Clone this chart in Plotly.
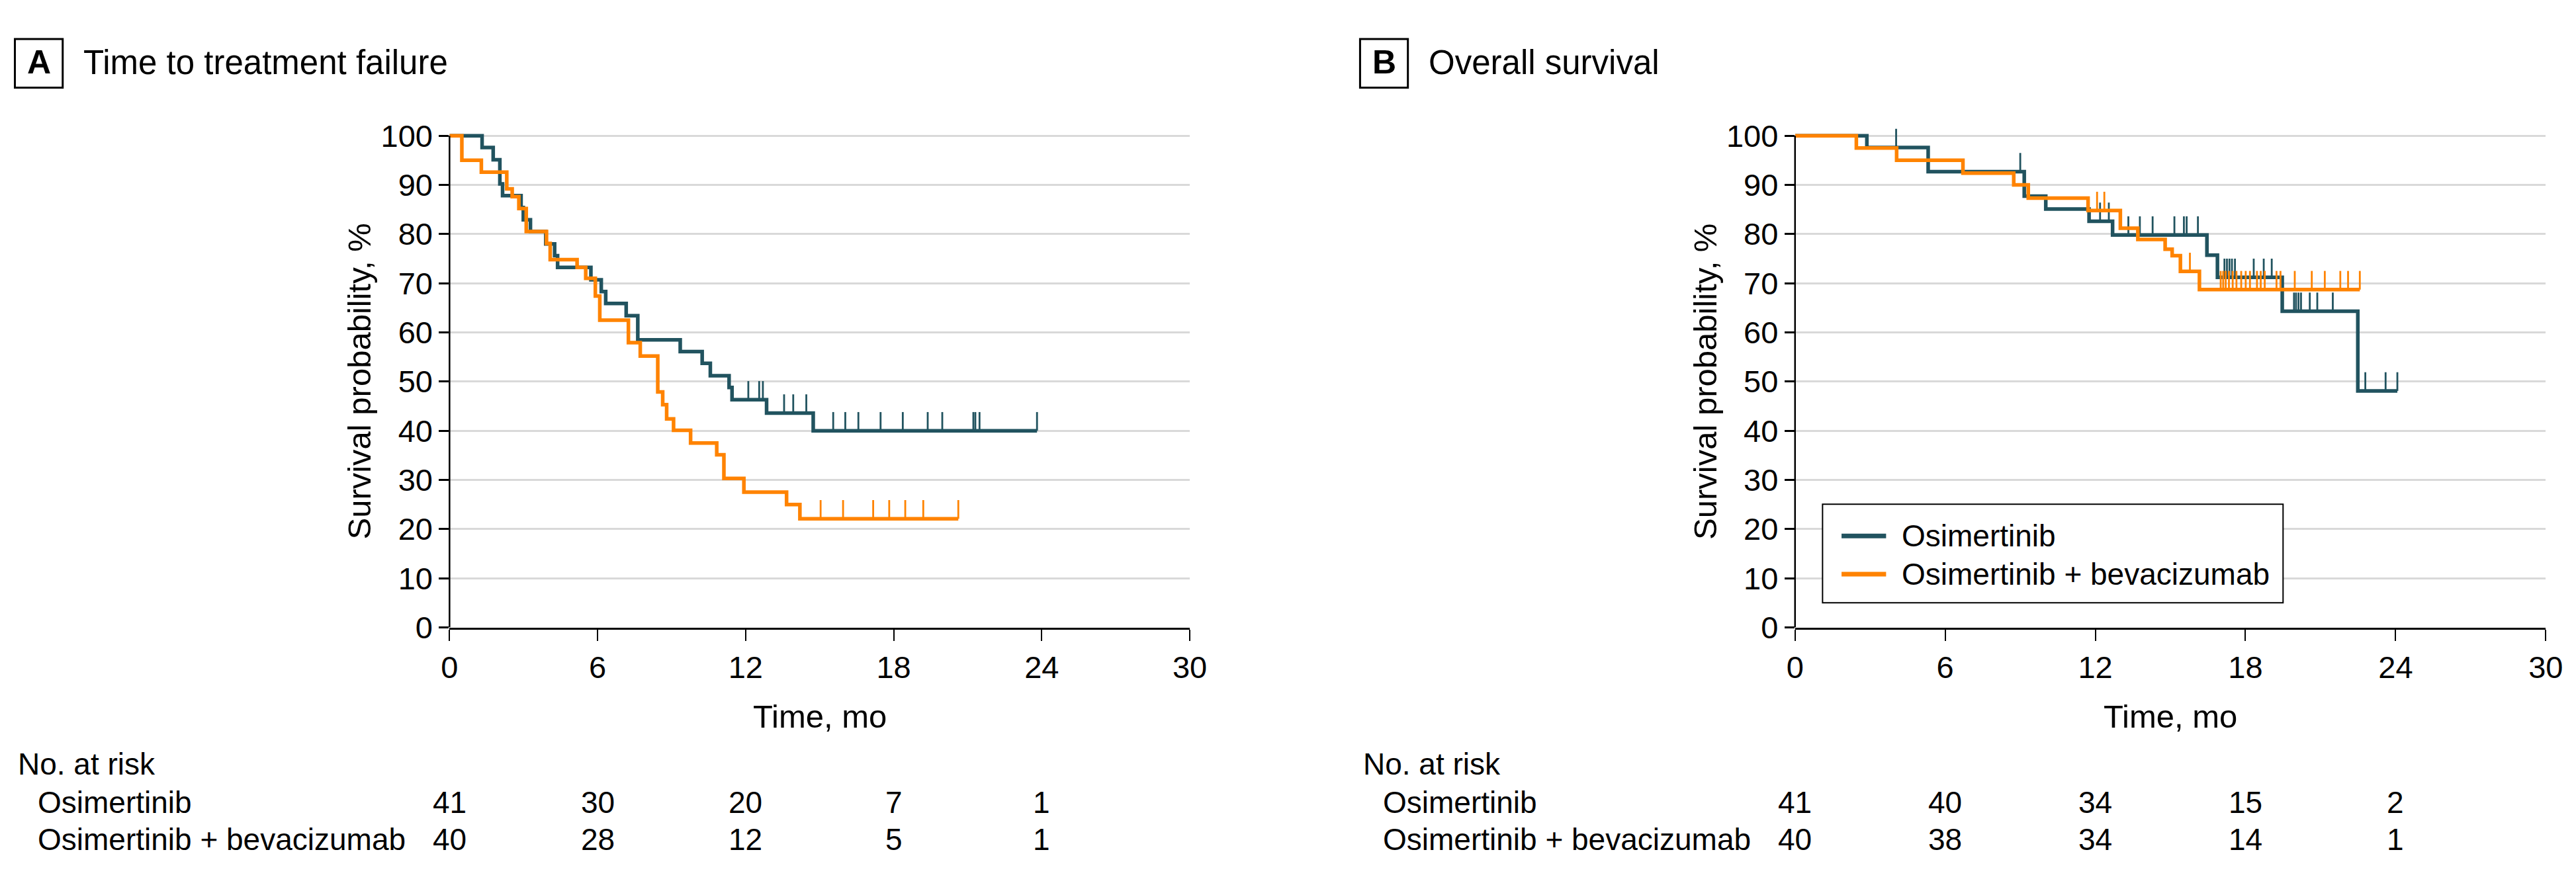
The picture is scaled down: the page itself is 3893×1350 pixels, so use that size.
import plotly.graph_objects as go

W, H = 3893, 1350
FONT = "Liberation Sans, Arial, sans-serif"
TEAL = "#21535f"
ORANGE = "#ff8300"
GRID = "#d9d9d9"

series_names = ["Osimertinib", "Osimertinib + bevacizumab"]
panel_titles = ["Time to treatment failure", "Overall survival"]
panel_letters = ["A", "B"]

# Panel A - time to treatment failure (months, survival %)
ttf_osi_t = [1.32, 1.77, 2.04, 2.15, 2.90, 2.99, 3.28, 3.90, 4.26, 4.38, 5.73, 6.15, 6.33,
             7.16, 7.63, 9.35, 10.24, 10.57, 11.33, 11.45, 12.85, 14.74]
ttf_osi_s = [97.6, 95.1, 90.2, 87.8, 85.4, 82.9, 80.5, 78.0, 75.6, 73.2, 70.7, 68.3, 65.9,
             63.4, 58.5, 56.1, 53.7, 51.2, 48.8, 46.3, 43.6, 40.0]
ttf_osi_end = 23.81
ttf_osi_cens = [12.11, 12.55, 12.70, 13.56, 13.93, 14.46, 15.55, 16.04, 16.57, 17.47, 18.37,
                19.38, 19.97, 21.23, 21.31, 21.48, 23.81]

ttf_bev_t = [0.50, 1.29, 2.32, 2.54, 2.81, 3.11, 3.93, 4.08, 5.17, 5.52, 5.91, 6.09, 7.25,
             7.73, 8.44, 8.64, 8.80, 9.08, 9.77, 10.83, 11.12, 11.93, 13.66, 14.20]
ttf_bev_s = [95.0, 92.6, 89.2, 87.6, 85.2, 80.5, 78.1, 74.8, 73.2, 71.0, 67.4, 62.5, 57.9,
             55.2, 47.9, 45.3, 42.4, 40.1, 37.5, 35.1, 30.3, 27.5, 25.0, 22.1]
ttf_bev_end = 20.62
ttf_bev_cens = [15.04, 15.95, 17.17, 17.82, 18.47, 19.20, 20.62]

# Panel B - overall survival
os_osi_t = [2.87, 5.32, 9.16, 10.02, 11.75, 12.69, 16.46, 16.88, 19.47, 22.49]
os_osi_s = [97.6, 92.7, 87.7, 85.1, 82.6, 79.8, 75.7, 71.2, 64.3, 48.1]
os_osi_end = 24.07
os_osi_cens = [4.04, 9.00, 12.19, 12.54, 13.32, 13.78, 14.29, 15.16, 15.54, 15.65, 16.10,
               17.16, 17.26, 17.36, 17.46, 17.58, 18.33, 18.73, 19.05, 19.94, 20.02, 20.12,
               20.22, 20.57, 20.87, 21.49, 22.79, 23.60, 24.07]

os_bev_t = [2.45, 4.06, 6.71, 8.74, 9.32, 11.71, 13.00, 13.70, 14.79, 15.07, 15.40, 16.16]
os_bev_s = [97.5, 95.0, 92.4, 90.0, 87.3, 84.8, 81.2, 78.9, 76.9, 75.6, 72.4, 68.7]
os_bev_end = 22.57
os_bev_cens = [12.07, 12.36, 15.78, 17.01, 17.11, 17.21, 17.34, 17.49, 17.64, 17.83, 18.01,
               18.18, 18.46, 18.61, 18.77, 19.24, 19.40, 19.97, 20.65, 21.17, 21.79, 22.10,
               22.57]

# number at risk
risk_times = [0, 6, 12, 18, 24]
risk_ttf_osi = [41, 30, 20, 7, 1]
risk_ttf_bev = [40, 28, 12, 5, 1]
risk_os_osi = [41, 40, 34, 15, 2]
risk_os_bev = [40, 38, 34, 14, 1]

x_ticks = [0, 6, 12, 18, 24, 30]
y_ticks = list(range(0, 101, 10))


def px(x):
    return x / W


def py(y):
    return 1 - y / H


def level_at(t, times, levels):
    s = 100
    for ti, si in zip(times, levels):
        if ti <= t:
            s = si
    return s


def km_traces(times, levels, end, cens, color, xa, ya):
    xs = [0] + times + [end]
    ys = [100] + levels + [levels[-1]]
    curve = go.Scatter(x=xs, y=ys, mode="lines", line=dict(color=color, width=5.5, shape="hv"),
                       xaxis=xa, yaxis=ya, showlegend=False, hoverinfo="skip")
    # censor marks: short vertical ticks rising from the curve
    cx, cy = [], []
    for c in cens:
        s = level_at(c, times, levels)
        cx += [c, c, None]
        cy += [s, s + 3.8, None]
    ticks = go.Scatter(x=cx, y=cy, mode="lines", line=dict(color=color, width=2.8),
                       xaxis=xa, yaxis=ya, showlegend=False, hoverinfo="skip")
    return [curve, ticks]


fig = go.Figure()
for tr in (km_traces(ttf_osi_t, ttf_osi_s, ttf_osi_end, ttf_osi_cens, TEAL, "x", "y")
           + km_traces(ttf_bev_t, ttf_bev_s, ttf_bev_end, ttf_bev_cens, ORANGE, "x", "y")
           + km_traces(os_osi_t, os_osi_s, os_osi_end, os_osi_cens, TEAL, "x2", "y2")
           + km_traces(os_bev_t, os_bev_s, os_bev_end, os_bev_cens, ORANGE, "x2", "y2")):
    fig.add_trace(tr)

y_dom = [py(959), py(170.7)]
xa_common = dict(range=[0, 30], tickvals=x_ticks, showgrid=False, zeroline=False,
                 showline=True, linecolor="black", linewidth=3, ticks="outside",
                 ticklen=17, tickwidth=2, tickcolor="black",
                 tickfont=dict(family=FONT, size=47, color="black"), fixedrange=True)
ya_common = dict(range=[0, 104], tickvals=y_ticks, showgrid=True, gridcolor=GRID, gridwidth=3,
                 zeroline=False, showline=False, ticks="outside", ticklen=15, tickwidth=3,
                 tickcolor="black", tickfont=dict(family=FONT, size=47, color="black"),
                 domain=y_dom, fixedrange=True)

fig.update_layout(
    width=W, height=H,
    margin=dict(l=0, r=0, t=0, b=0),
    paper_bgcolor="white", plot_bgcolor="white",
    showlegend=False,
    xaxis=dict(domain=[px(665), px(1795)], anchor="y", **xa_common),
    yaxis=dict(anchor="x", **ya_common),
    xaxis2=dict(domain=[px(2719), px(3865)], anchor="y2", **xa_common),
    yaxis2=dict(anchor="x2", **ya_common),
)

shapes = []
ann = []

panels = [
    dict(xref="x", yref="y", box_x=1.5, title_x=104, risk_x=4,
         risk=[risk_ttf_osi, risk_ttf_bev], ytitle_x=527, center=1230),
    dict(xref="x2", yref="y2", box_x=2055, title_x=2158, risk_x=2058,
         risk=[risk_os_osi, risk_os_bev], ytitle_x=2582, center=3292),
]

for i, p in enumerate(panels):
    # y axis line from 0 to 100
    shapes.append(dict(type="line", xref=p["xref"] + " domain", yref=p["yref"],
                       x0=0, x1=0, y0=0, y1=100, line=dict(color="black", width=2.5)))
    # panel letter box
    shapes.append(dict(type="rect", xref="paper", yref="paper",
                       x0=px(p["box_x"]), x1=px(p["box_x"] + 73), y0=py(127), y1=py(52),
                       line=dict(color="black", width=3)))
    ann.append(dict(text="<b>%s</b>" % panel_letters[i], x=px(p["box_x"] + 37), y=py(88),
                    xref="paper", yref="paper", xanchor="center", yanchor="middle",
                    showarrow=False, font=dict(family=FONT, size=50, color="black")))
    ann.append(dict(text=panel_titles[i], x=px(p["title_x"]), y=py(88), xref="paper",
                    yref="paper", xanchor="left", yanchor="middle", showarrow=False,
                    font=dict(family=FONT, size=51, color="black")))
    ann.append(dict(text="Survival probability, %", x=px(p["ytitle_x"]), y=py(580),
                    xref="paper", yref="paper", xanchor="center", yanchor="middle",
                    textangle=-90, showarrow=False,
                    font=dict(family=FONT, size=49, color="black")))
    ann.append(dict(text="Time, mo", x=px(p["center"]), y=py(1096), xref="paper",
                    yref="paper", xanchor="center", yanchor="middle", showarrow=False,
                    font=dict(family=FONT, size=49, color="black")))
    ann.append(dict(text="No. at risk", x=px(p["risk_x"]), y=py(1170), xref="paper",
                    yref="paper", xanchor="left", yanchor="middle", showarrow=False,
                    font=dict(family=FONT, size=46, color="black")))
    for j, row_y in enumerate([1229, 1286]):
        ann.append(dict(text=series_names[j], x=px(p["risk_x"] + 30), y=py(row_y),
                        xref="paper", yref="paper", xanchor="left", yanchor="middle",
                        showarrow=False, font=dict(family=FONT, size=46, color="black")))
        for t, n in zip(risk_times, p["risk"][j]):
            ann.append(dict(text=str(n), x=t, y=py(row_y), xref=p["xref"], yref="paper",
                            xanchor="center", yanchor="middle", showarrow=False,
                            font=dict(family=FONT, size=46, color="black")))

# legend of panel B
shapes.append(dict(type="rect", xref="paper", yref="paper", x0=px(2761), x1=px(3464),
                   y0=py(921), y1=py(769), line=dict(color="black", width=2),
                   fillcolor="white", layer="above"))
for j, (ly, col) in enumerate([(818, TEAL), (877, ORANGE)]):
    shapes.append(dict(type="line", xref="paper", yref="paper", x0=px(2790), x1=px(2858),
                       y0=py(ly), y1=py(ly), line=dict(color=col, width=7), layer="above"))
    ann.append(dict(text=series_names[j], x=px(2880), y=py(ly), xref="paper", yref="paper",
                    xanchor="left", yanchor="middle", showarrow=False,
                    font=dict(family=FONT, size=46, color="black")))

fig.update_layout(shapes=shapes, annotations=ann)
fig.write_html("out.html")
